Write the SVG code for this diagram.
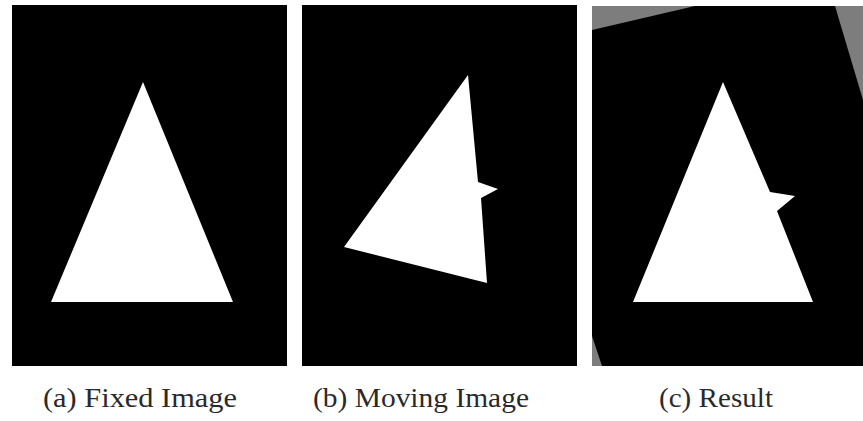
<svg xmlns="http://www.w3.org/2000/svg" width="863" height="421" viewBox="0 0 863 421">
<style>
.bg{fill:#000}
.shape{fill:#fff}
.gray{fill:#7d7d7d}
.cap{font-family:"Liberation Serif","Times New Roman",serif;font-size:28px;fill:#2a2a2a}
</style>
<rect width="863" height="421" fill="#fff"/>
<g id="panel-a">
<rect class="bg" x="12" y="5" width="275" height="361"/>
<polygon class="shape" points="143,82 233,302 51,302"/>
</g>
<g id="panel-b">
<rect class="bg" x="302" y="5" width="275" height="361"/>
<polygon class="shape" points="468,75 478,182 498,189 481,198 487,283 344,247"/>
</g>
<g id="panel-c">
<rect class="bg" x="592" y="6" width="271" height="360"/>
<polygon class="gray" points="592,6 695,6 592,30"/>
<polygon class="gray" points="835,6 863,6 863,100"/>
<polygon class="gray" points="592,336 592,366 602,366"/>
<polygon class="shape" points="723,82 770,192 795,196 777,211 813,302 633,302"/>
</g>
<g id="captions">
<text class="cap" x="43" y="407" textLength="194" lengthAdjust="spacingAndGlyphs">(a) Fixed Image</text>
<text class="cap" x="313" y="407" textLength="216" lengthAdjust="spacingAndGlyphs">(b) Moving Image</text>
<text class="cap" x="659" y="407" textLength="114" lengthAdjust="spacingAndGlyphs">(c) Result</text>
</g>
</svg>
